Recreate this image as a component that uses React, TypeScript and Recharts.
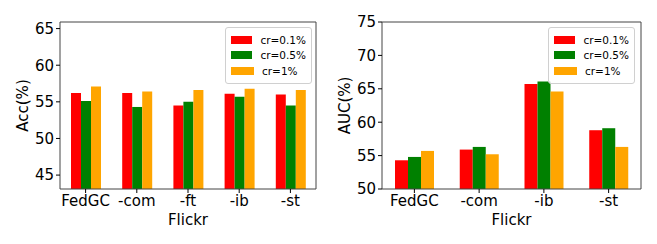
import React from 'react';
import { BarChart, Bar, XAxis, YAxis, Legend } from 'recharts';

const accCategories = ['FedGC', '-com', '-ft', '-ib', '-st'];
const acc01 = [56.2, 56.2, 54.5, 56.1, 56.0];
const acc05 = [55.1, 54.3, 55.0, 55.7, 54.5];
const acc1 = [57.1, 56.4, 56.6, 56.8, 56.6];
const accTicks = [45, 50, 55, 60, 65];

const aucCategories = ['FedGC', '-com', '-ib', '-st'];
const auc01 = [54.3, 55.9, 65.7, 58.8];
const auc05 = [54.8, 56.3, 66.1, 59.1];
const auc1 = [55.7, 55.2, 64.6, 56.3];
const aucTicks = [50, 55, 60, 65, 70, 75];

const SERIES = [
  { key: 'cr01', name: 'cr=0.1%', color: '#ff0000' },
  { key: 'cr05', name: 'cr=0.5%', color: '#008000' },
  { key: 'cr1', name: 'cr=1%', color: '#ffa500' },
];

const FONT = 'DejaVu Sans, sans-serif';
const SPINE = '#444';

function LegendBox() {
  return (
    <div
      style={{
        border: '1px solid #d0d0d0',
        borderRadius: 3,
        background: 'rgba(255,255,255,0.8)',
        padding: '4px 5px 4px 5px',
        fontFamily: FONT,
        fontSize: 10.5,
        color: '#000',
        boxSizing: 'border-box',
      }}
    >
      {SERIES.map((s) => (
        <div key={s.key} style={{ display: 'flex', alignItems: 'center', height: 15.5 }}>
          <span style={{ width: 23, height: 8, background: s.color, display: 'inline-block', marginRight: 8 }} />
          <span style={{ lineHeight: '12px' }}>{s.name}</span>
        </div>
      ))}
    </div>
  );
}

interface PanelProps {
  cats: string[];
  a: number[];
  b: number[];
  c: number[];
  domain: [number, number];
  ticks: number[];
  width: number;
  yLabel: string;
  barSize: number;
  margin: { top: number; right: number; bottom: number; left: number };
  yWidth: number;
  yLabelOffset: number;
  legendLeft: number;
  legendWidth: number;
}

function Panel(p: PanelProps) {
  const data = p.cats.map((name, i) => ({ name, cr01: p.a[i], cr05: p.b[i], cr1: p.c[i] }));
  return (
    <BarChart width={p.width} height={244} data={data} margin={p.margin} barGap={0} barSize={p.barSize}>
      <XAxis
        dataKey="name"
        height={50}
        stroke={SPINE}
        tickSize={4}
        tickLine={{ stroke: '#000' }}
        tick={{ fill: '#000', fontSize: 15, fontFamily: FONT }}
        interval={0}
        label={{ value: 'Flickr', position: 'insideBottom', offset: 14, fill: '#000', fontSize: 15, fontFamily: FONT }}
      />
      <XAxis xAxisId="top" orientation="top" dataKey="name" height={1} tick={false} tickLine={false} stroke={SPINE} />
      <YAxis
        type="number"
        domain={p.domain}
        ticks={p.ticks}
        allowDataOverflow
        width={p.yWidth}
        stroke={SPINE}
        tickSize={4}
        tickLine={{ stroke: '#000' }}
        tick={{ fill: '#000', fontSize: 15, fontFamily: FONT }}
        label={{
          value: p.yLabel,
          angle: -90,
          position: 'insideLeft',
          offset: p.yLabelOffset,
          fill: '#000',
          fontSize: 15,
          fontFamily: FONT,
          style: { textAnchor: 'middle' },
        }}
      />
      <YAxis yAxisId="right" orientation="right" width={1} tick={false} tickLine={false} stroke={SPINE} />
      <Legend
        layout="horizontal"
        align="center"
        verticalAlign="middle"
        content={() => <LegendBox />}
        wrapperStyle={{ position: 'absolute', top: 27, left: p.legendLeft, width: p.legendWidth }}
      />
      {SERIES.map((s) => (
        <Bar key={s.key} dataKey={s.key} name={s.name} fill={s.color} isAnimationActive={false} />
      ))}
    </BarChart>
  );
}

export default function App() {
  return (
    <div style={{ position: 'absolute', left: 0, top: 0, width: 657, height: 244, background: '#fff' }}>
      <div style={{ position: 'absolute', left: 0, top: 0 }}>
        <Panel
          cats={accCategories}
          a={acc01}
          b={acc05}
          c={acc1}
          domain={[43.1, 65.9]}
          ticks={accTicks}
          width={330}
          yLabel="Acc(%)"
          barSize={10}
          margin={{ top: 21, right: 13, bottom: 5, left: 5 }}
          yWidth={55}
          yLabelOffset={18}
          legendLeft={225}
          legendWidth={87}
        />
      </div>
      <div style={{ position: 'absolute', left: 330, top: 0 }}>
        <Panel
          cats={aucCategories}
          a={auc01}
          b={auc05}
          c={auc1}
          domain={[50, 75]}
          ticks={aucTicks}
          width={327}
          yLabel="AUC(%)"
          barSize={13}
          margin={{ top: 21, right: 15, bottom: 5, left: 0 }}
          yWidth={52}
          yLabelOffset={15}
          legendLeft={218}
          legendWidth={87}
        />
      </div>
    </div>
  );
}
